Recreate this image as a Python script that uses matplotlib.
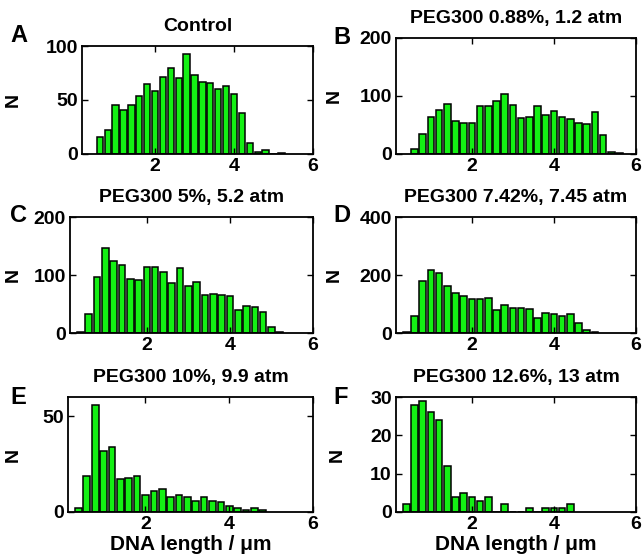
import matplotlib
matplotlib.use('Agg')
import matplotlib.pyplot as plt

plt.rcParams['font.family'] = ['Liberation Sans', 'DejaVu Sans']
plt.rcParams['font.weight'] = 'bold'

# bin centres (um) and counts for each panel
x_a = [0.6, 0.8, 1.0, 1.2, 1.4, 1.6, 1.8, 2.0, 2.2, 2.4, 2.6, 2.8, 3.0, 3.2,
       3.4, 3.6, 3.8, 4.0, 4.2, 4.4, 4.6, 4.8, 5.0, 5.2]
n_a = [16, 22, 45, 41, 45, 54, 65, 58, 71, 80, 70, 93, 73, 67,
       66, 60, 63, 56, 38, 10, 2, 4, 0, 1]

x_b = [0.6, 0.8, 1.0, 1.2, 1.4, 1.6, 1.8, 2.0, 2.2, 2.4, 2.6, 2.8, 3.0, 3.2,
       3.4, 3.6, 3.8, 4.0, 4.2, 4.4, 4.6, 4.8, 5.0, 5.2, 5.4, 5.6]
n_b = [8, 34, 63, 76, 86, 57, 54, 54, 82, 82, 92, 103, 85, 62,
       63, 83, 67, 75, 63, 60, 54, 51, 72, 32, 4, 2]

x_c = [0.4, 0.6, 0.8, 1.0, 1.2, 1.4, 1.6, 1.8, 2.0, 2.2, 2.4, 2.6, 2.8, 3.0,
       3.2, 3.4, 3.6, 3.8, 4.0, 4.2, 4.4, 4.6, 4.8, 5.0, 5.2]
n_c = [2, 33, 97, 147, 124, 118, 93, 92, 114, 113, 106, 87, 112, 81,
       88, 65, 67, 66, 64, 40, 47, 45, 36, 10, 2]

x_d = [0.4, 0.6, 0.8, 1.0, 1.2, 1.4, 1.6, 1.8, 2.0, 2.2, 2.4, 2.6, 2.8, 3.0,
       3.2, 3.4, 3.6, 3.8, 4.0, 4.2, 4.4, 4.6, 4.8, 5.0]
n_d = [2, 57, 181, 217, 206, 163, 138, 129, 117, 118, 120, 79, 97, 86,
       87, 83, 52, 70, 64, 58, 65, 35, 12, 3]

x_e = [0.4, 0.6, 0.8, 1.0, 1.2, 1.4, 1.6, 1.8, 2.0, 2.2, 2.4, 2.6, 2.8, 3.0,
       3.2, 3.4, 3.6, 3.8, 4.0, 4.2, 4.4, 4.6, 4.8]
n_e = [2, 19, 56, 32, 34, 17, 18, 19, 9, 11, 12, 8, 9, 8,
       6, 8, 6, 5, 3, 2, 1, 2, 1]

x_f = [0.4, 0.6, 0.8, 1.0, 1.2, 1.4, 1.6, 1.8, 2.0, 2.2, 2.4, 2.6, 2.8, 3.0,
       3.2, 3.4, 3.6, 3.8, 4.0, 4.2, 4.4]
n_f = [2, 28, 29, 26, 24, 12, 4, 5, 4, 3, 4, 0, 2, 0,
       0, 1, 0, 1, 1, 1, 2]

titles = ['Control', 'PEG300 0.88%, 1.2 atm', 'PEG300 5%, 5.2 atm',
          'PEG300 7.42%, 7.45 atm', 'PEG300 10%, 9.9 atm', 'PEG300 12.6%, 13 atm']
letters = ['A', 'B', 'C', 'D', 'E', 'F']
yticks = [[0, 50, 100], [0, 100, 200], [0, 100, 200],
          [0, 200, 400], [0, 50], [0, 10, 20, 30]]
ylims = [100, 200, 200, 400, 60, 30]
data = [(x_a, n_a), (x_b, n_b), (x_c, n_c), (x_d, n_d), (x_e, n_e), (x_f, n_f)]

W, H = 643, 557
fig = plt.figure(figsize=(W / 100, H / 100), dpi=100)

# axes boxes in pixels: left, top, right, bottom
boxes = [(82, 46, 313, 154), (396, 38, 636, 154),
         (70, 217, 313, 333), (396, 217, 636, 333),
         (68, 397, 313, 512), (396, 397, 636, 512)]
ylab_x = [-0.26, -0.22, -0.2, -0.22, -0.19, -0.21]
letter_pos = [(10, 35), (333, 38), (10, 216), (333, 216), (10, 398), (333, 397)]

green = '#14f014'

for i in range(6):
    l, t, r, b = boxes[i]
    ax = fig.add_axes([l / W, 1 - b / H, (r - l) / W, (b - t) / H])
    xs, ns = data[i]
    ax.bar(xs, ns, width=0.16, color=green, edgecolor='black', linewidth=1.1)
    ax.set_xlim(0.15, 6)
    ax.set_ylim(0, ylims[i])
    ax.set_xticks([2, 4, 6])
    ax.set_yticks(yticks[i])
    ax.tick_params(direction='in', top=True, right=True, length=4, width=1,
                   labelsize=14, pad=3)
    for s in ax.spines.values():
        s.set_linewidth(1.3)
    ax.set_title(titles[i], fontsize=14, fontweight='bold', pad=11)
    ax.set_ylabel('N', fontsize=14, fontweight='bold')
    ax.yaxis.set_label_coords(ylab_x[i], 0.5)
    if i >= 4:
        ax.set_xlabel('DNA length / μm', fontsize=15, fontweight='bold')
        ax.xaxis.set_label_coords(0.5, -0.2)
    lx, ly = letter_pos[i]
    fig.text(lx / W, 1 - ly / H, letters[i], fontsize=17, fontweight='bold',
             ha='left', va='center')

fig.savefig('out.png', dpi=100)
